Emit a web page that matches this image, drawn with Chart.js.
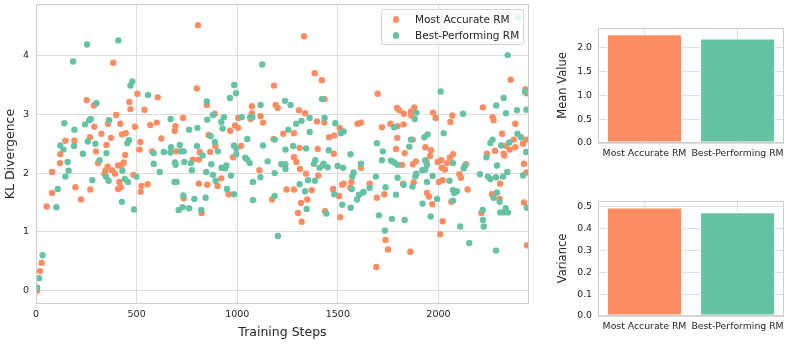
<!DOCTYPE html>
<html>
<head>
<meta charset="utf-8">
<script src="https://cdn.jsdelivr.net/npm/chart.js@4.4.1/dist/chart.umd.min.js"></script>
<style>
html,body{margin:0;padding:0;background:#ffffff;}
#wrap{position:relative;width:789px;height:344px;overflow:hidden;font-family:"DejaVu Sans",sans-serif;}
canvas{position:absolute;}
#legend{position:absolute;left:381px;top:9px;width:141px;height:34px;border:1px solid #d4d4d4;border-radius:3px;background:rgba(255,255,255,0.8);color:#262626;font-size:10.5px;}
#legend .row{position:absolute;left:0;height:14px;line-height:14px;white-space:nowrap;}
#legend .dot{position:absolute;left:10.5px;top:4px;width:6.5px;height:6.5px;border-radius:50%;}
#legend .txt{position:absolute;left:33px;top:0;}
</style>
</head>
<body>
<div id="wrap">
  <canvas id="main" width="540" height="344" style="left:0;top:0;"></canvas>
  <canvas id="mean" width="249" height="172" style="left:540px;top:0;"></canvas>
  <canvas id="variance" width="249" height="172" style="left:540px;top:172px;"></canvas>
  <div id="legend"></div>
</div>
<script>
// ---------------- data ----------------
const seriesNames = ['Most Accurate RM', 'Best-Performing RM'];
const seriesColors = ['#fc8d62', '#66c2a5'];

const accurateSteps = [5,20,28,53,80,80,119,121,146,191,196,224,252,268,270,287,290,298,308,325,340,345,350,356,358,373,378,384,393,398,408,408,414,419,421,427,427,436,443,446,464,469,484,492,504,514,519,520,524,539,555,568,577,600,605,623,689,693,696,731,734,779,799,805,809,809,
813,823,849,851,858,866,888,891,902,921,957,965,979,989,1005,1005,1018,1066,1073,1073,1110,1116,1128,1173,1181,1183,1191,1201,1229,1245,1282,1282,1282,1294,1302,1307,1310,1312,1317,1320,1332,1337,1342,1348,1370,1385,1396,1400,1403,1421,1426,1433,1434,1436,1456,1476,1480,1482,1506,1509,1512,1521,1529,1562,1567,1598,1615,1615,
1658,1691,1694,1698,1719,1731,1737,1749,1761,1789,1794,1795,1797,1805,1819,1824,1827,1828,1832,1860,1863,1865,1872,1873,1877,1880,1888,1935,1940,1943,1953,1958,1963,1969,1973,1986,1996,2002,2009,2014,2017,2021,2021,2032,2042,2057,2059,2064,2069,2072,2104,2112,2137,2145,2213,2221,2241,2266,2269,2274,2281,2304,2306,2316,2324,2327,2336,2354,2359,2374,2382,2382,2420,2425,2425,2432,2437,2437,2437,2440];
const accurateKL = [0.00,0.33,0.47,1.43,2.02,1.66,2.17,2.32,2.55,2.55,1.76,1.55,3.24,2.61,1.72,3.15,2.79,2.37,2.17,2.67,1.99,2.04,2.48,2.11,2.84,2.60,2.05,3.88,1.99,2.99,2.13,1.73,1.85,2.84,1.76,2.14,2.66,2.18,2.31,2.68,3.21,3.09,1.97,2.79,3.35,2.40,2.53,1.68,1.78,3.08,1.81,2.82,2.37,2.86,3.29,2.59,2.72,2.80,2.37,2.94,1.57,2.23,3.44,4.52,2.23,1.82,
2.36,1.32,3.16,1.80,2.65,2.36,3.01,2.46,1.78,1.91,1.64,2.72,2.27,2.81,2.94,2.77,2.46,2.92,3.14,3.02,2.05,2.97,2.86,1.55,2.58,3.49,3.16,3.11,2.67,1.72,2.68,2.27,1.72,2.19,1.32,3.07,2.43,2.07,1.49,1.17,4.33,3.02,1.99,1.55,1.71,3.70,2.88,2.41,1.96,3.58,2.13,2.86,3.26,1.35,2.61,1.73,2.33,2.64,1.61,2.77,1.25,1.80,1.82,1.75,1.85,2.84,2.86,2.09,
1.82,0.40,1.58,3.35,2.78,1.64,0.86,0.70,2.84,2.41,3.11,2.60,2.80,3.07,2.14,1.82,2.83,3.01,2.34,0.66,3.05,2.98,2.57,2.15,1.84,3.12,2.20,2.44,2.19,1.66,1.60,2.29,2.39,1.47,3.03,2.94,2.19,1.85,0.96,2.22,2.09,1.88,1.18,2.06,2.17,2.26,2.87,1.51,2.98,2.32,1.98,1.92,2.15,1.72,1.32,3.12,2.33,1.64,2.95,2.90,2.38,1.56,1.82,2.67,2.33,2.30,2.46,2.40,3.59,2.57,2.84,2.44,2.50,2.16,1.50,3.43,3.36,2.57,2.01,0.77];

const bestSteps = [5,15,33,101,108,121,136,141,146,157,162,184,189,191,233,244,254,257,265,272,280,295,300,316,348,350,361,363,409,427,429,441,454,457,462,469,479,487,499,557,585,585,615,635,668,669,671,689,691,694,699,709,714,719,729,732,734,737,761,761,770,775,787,800,802,821,
828,843,846,849,851,868,871,879,879,889,893,904,921,922,927,934,939,946,949,964,969,984,984,985,994,995,995,1022,1040,1050,1050,1062,1065,1075,1078,1078,1115,1116,1124,1128,1151,1186,1186,1187,1202,1219,1237,1239,1240,1240,1254,1265,1278,1293,1310,1320,1337,1342,1345,1352,1360,1360,1381,1386,1388,1409,1421,1429,1434,1443,1449,1455,1482,1487,1499,1516,1522,1526,1529,1563,1564,1570,1572,1578,1595,1605,1615,1625,
1628,1658,1689,1694,1704,1719,1724,1734,1737,1764,1769,1780,1780,1789,1797,1797,1827,1832,1855,1863,1871,1882,1885,1890,1890,1920,1921,1930,1934,1934,1943,1943,1946,1961,1971,1993,2011,2026,2055,2072,2072,2072,2079,2092,2108,2122,2125,2132,2153,2206,2220,2221,2225,2238,2246,2258,2258,2269,2274,2286,2286,2287,2291,2291,2304,2307,2312,2321,2324,2324,2334,2336,2342,2344,2345,2352,2390,2393,2397,2410,2420,2430,2436,2437,2440];
const bestKL = [0.05,0.21,0.60,1.42,1.73,2.47,2.40,2.85,1.94,2.19,2.04,3.90,2.46,2.74,2.33,2.83,4.19,2.54,2.90,2.92,1.88,2.50,3.19,2.22,1.94,2.34,1.87,2.90,4.26,1.51,2.04,1.90,2.51,1.85,2.56,3.49,3.56,1.38,1.94,3.33,2.34,2.16,2.02,2.36,2.35,2.92,2.44,1.85,2.18,2.14,1.85,1.37,2.48,2.37,1.42,1.62,2.37,2.19,2.74,1.40,2.17,2.05,1.56,2.46,2.77,1.37,
2.30,1.58,2.02,3.22,2.91,2.63,2.15,2.99,1.97,2.53,1.87,2.37,2.87,2.09,2.76,2.95,2.08,2.13,1.73,3.28,1.96,2.47,1.64,3.50,3.36,2.42,2.32,2.95,2.26,2.58,2.23,2.17,2.95,2.95,1.85,1.54,1.93,3.16,3.85,2.47,2.20,2.00,1.61,2.57,0.93,2.15,3.23,2.15,2.40,2.07,2.74,3.16,2.46,2.84,1.81,2.89,1.69,2.42,1.39,1.88,2.94,2.70,2.16,1.87,2.22,2.09,3.26,2.16,2.94,1.31,2.10,2.39,1.64,2.85,2.12,2.68,1.46,2.09,2.71,2.32,1.41,1.73,1.94,2.01,1.55,1.63,2.16,1.67,
1.68,1.75,1.94,2.51,1.28,2.22,2.37,1.02,1.76,2.21,1.22,2.78,2.18,1.63,2.14,1.92,1.80,1.20,2.45,2.57,1.77,2.92,1.94,3.03,1.99,2.05,1.48,2.61,2.22,2.06,2.14,1.85,2.66,1.26,1.95,1.56,3.39,2.68,1.87,2.17,1.71,1.53,1.66,1.69,1.09,3.01,2.08,2.13,0.81,1.98,1.37,1.20,1.09,2.27,1.94,2.51,1.90,2.57,1.58,1.93,0.68,3.15,2.13,1.67,1.51,1.33,2.47,1.94,3.28,1.33,1.40,3.02,2.02,4.01,1.33,2.52,3.07,2.67,4.65,2.61,1.96,3.39,2.36,3.08,1.41];

const stepTicks = [0, 500, 1000, 1500, 2000];
const klTicks = [0, 1, 2, 3, 4];

const modelNames = ['Most Accurate RM', 'Best-Performing RM'];
const meanValues = [2.29, 2.20];
const varianceValues = [0.495, 0.474];
const meanTicks = [0, 0.5, 1.0, 1.5, 2.0];
const varianceTicks = [0, 0.1, 0.2, 0.3, 0.4, 0.5];

// ---------------- helpers ----------------
Chart.defaults.font.family = 'DejaVu Sans';
Chart.defaults.color = '#262626';
const GRID = '#dddddd';
const TXT = '#262626';

const framePlugin = {
  id: 'frame',
  afterDraw(chart) {
    const {ctx, chartArea: a} = chart;
    ctx.save();
    ctx.strokeStyle = '#cccccc';
    ctx.lineWidth = 1;
    const l = Math.round(a.left) + 0.5, t = Math.round(a.top) + 0.5;
    const r = Math.round(a.right) - 0.5, b = Math.round(a.bottom) - 0.5;
    ctx.strokeRect(l, t, r - l, b - t);
    ctx.restore();
  }
};

function fixedTicks(list) {
  return s => { s.ticks = list.map(v => ({value: v})); };
}
function fitY(w) {
  return s => { s.width = w; s.paddingTop = 0; s.paddingBottom = 0; };
}
function fitX(h) {
  return s => { s.height = h; s.paddingLeft = 0; s.paddingRight = 0; };
}

// ---------------- main scatter ----------------
new Chart(document.getElementById('main'), {
  type: 'scatter',
  data: {
    datasets: [
      {
        label: seriesNames[0],
        data: accurateSteps.map((x, i) => ({x: x, y: accurateKL[i]})),
        backgroundColor: seriesColors[0],
        borderWidth: 0,
        pointRadius: 3.2,
        order: 2
      },
      {
        label: seriesNames[1],
        data: bestSteps.map((x, i) => ({x: x, y: bestKL[i]})),
        backgroundColor: seriesColors[1],
        borderWidth: 0,
        pointRadius: 3.2,
        order: 1
      }
    ]
  },
  options: {
    responsive: false,
    animation: false,
    events: [],
    layout: {padding: {top: 4, right: 11, left: 0, bottom: 0}},
    plugins: {legend: {display: false}, tooltip: {enabled: false}},
    scales: {
      x: {
        type: 'linear', min: 0, max: 2450,
        afterBuildTicks: fixedTicks(stepTicks),
        afterFit: fitX(40),
        grid: {color: GRID, drawTicks: false, lineWidth: 1},
        border: {display: false},
        ticks: {padding: 5, color: TXT, font: {size: 9.5}, callback: v => String(v)},
        title: {display: true, text: 'Training Steps', color: TXT, font: {size: 12.5}, padding: {top: 0, bottom: 4}}
      },
      y: {
        type: 'linear', min: -0.23, max: 4.88,
        afterBuildTicks: fixedTicks(klTicks),
        afterFit: fitY(36),
        grid: {color: GRID, drawTicks: false, lineWidth: 1},
        border: {display: false},
        ticks: {padding: 7, color: TXT, font: {size: 9.5}, callback: v => String(v)},
        title: {display: true, text: 'KL Divergence', color: TXT, font: {size: 12.5}, padding: {top: 3, bottom: 0}}
      }
    }
  },
  plugins: [framePlugin]
});

// ---------------- legend ----------------
const legendEl = document.getElementById('legend');
seriesNames.forEach((name, i) => {
  const row = document.createElement('div');
  row.className = 'row';
  row.style.top = (i === 0 ? 2 : 18) + 'px';
  row.style.width = '141px';
  const dot = document.createElement('span');
  dot.className = 'dot';
  dot.style.background = seriesColors[i];
  const txt = document.createElement('span');
  txt.className = 'txt';
  txt.textContent = name;
  row.appendChild(dot);
  row.appendChild(txt);
  legendEl.appendChild(row);
});

// ---------------- bar charts ----------------
function barChart(id, values, yMax, ticks, title, topPad, xHeight) {
  new Chart(document.getElementById(id), {
    type: 'bar',
    data: {
      labels: modelNames,
      datasets: [{
        data: values,
        backgroundColor: seriesColors,
        borderColor: '#ffffff',
        borderWidth: 1,
        borderSkipped: false,
        barPercentage: 0.806,
        categoryPercentage: 1.0
      }]
    },
    options: {
      responsive: false,
      animation: false,
      events: [],
      layout: {padding: {top: topPad, right: 5, left: 0, bottom: 0}},
      plugins: {legend: {display: false}, tooltip: {enabled: false}},
      scales: {
        x: {
          afterFit: fitX(xHeight),
          grid: {color: GRID, drawTicks: false, offset: false},
          border: {display: false},
          ticks: {padding: 5, color: TXT, font: {size: 9.3}, maxRotation: 0, autoSkip: false}
        },
        y: {
          min: 0, max: yMax,
          afterBuildTicks: fixedTicks(ticks),
          afterFit: fitY(58),
          grid: {color: GRID, drawTicks: false},
          border: {display: false},
          ticks: {padding: 6, color: TXT, font: {size: 9.3}, callback: v => v.toFixed(1)},
          title: {display: true, text: title, color: TXT, font: {size: 11.5}, padding: {top: 16, bottom: 0}}
        }
      }
    },
    plugins: [framePlugin]
  });
}

barChart('mean', meanValues, 2.42, meanTicks, 'Mean Value', 28, 29);
barChart('variance', varianceValues, 0.525, varianceTicks, 'Variance', 29, 28);
</script>
</body>
</html>
